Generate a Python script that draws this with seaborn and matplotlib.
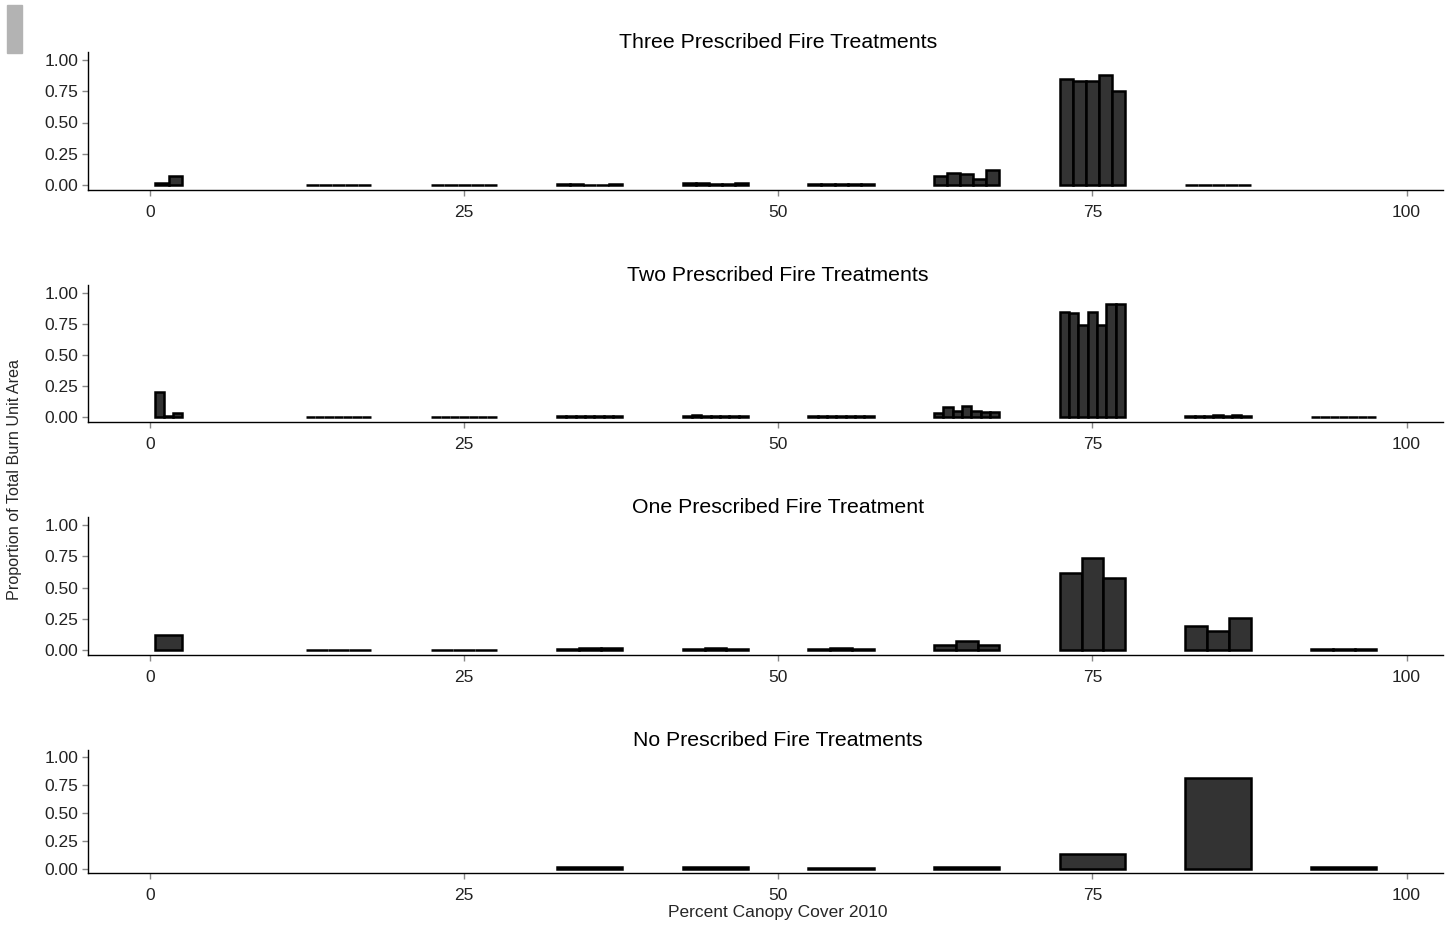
import numpy as np
import pandas as pd
import matplotlib
matplotlib.use("Agg")
import matplotlib.pyplot as plt
from matplotlib.patches import Rectangle
import seaborn as sns

# canopy cover classes (group midpoints, percent)
cover_classes = [1.5, 15, 25, 35, 45, 55, 65, 75, 85, 95]

panel_titles = [
    "Three Prescribed Fire Treatments",
    "Two Prescribed Fire Treatments",
    "One Prescribed Fire Treatment",
    "No Prescribed Fire Treatments",
]

# proportion of burn unit area, one list per cover class (one value per burn unit)
three_fires = [
    [0.02, 0.075],
    [0.003, 0.003, 0.003, 0.003, 0.003],
    [0.003, 0.003, 0.003, 0.003, 0.003],
    [0.012, 0.012, 0.004, 0.004, 0.012],
    [0.02, 0.02, 0.012, 0.012, 0.02],
    [0.005, 0.005, 0.005, 0.005, 0.012],
    [0.07, 0.095, 0.085, 0.05, 0.12],
    [0.85, 0.83, 0.83, 0.88, 0.75],
    [0.004, 0.004, 0.004, 0.004, 0.004],
    [],
]
two_fires = [
    [0.2, 0.01, 0.035],
    [0.003, 0.003, 0.003, 0.003, 0.003, 0.003, 0.003],
    [0.003, 0.003, 0.003, 0.003, 0.003, 0.003, 0.003],
    [0.01, 0.01, 0.01, 0.01, 0.01, 0.01, 0.01],
    [0.01, 0.02, 0.01, 0.01, 0.01, 0.01, 0.01],
    [0.01, 0.01, 0.01, 0.01, 0.01, 0.01, 0.01],
    [0.03, 0.08, 0.05, 0.09, 0.05, 0.04, 0.04],
    [0.85, 0.84, 0.74, 0.85, 0.74, 0.91, 0.91],
    [0.01, 0.01, 0.01, 0.02, 0.005, 0.02, 0.005],
    [0.003, 0.003, 0.003, 0.003, 0.003, 0.003, 0.003],
]
one_fire = [
    [0.12],
    [0.003, 0.003, 0.003],
    [0.003, 0.003, 0.003],
    [0.005, 0.015, 0.015],
    [0.005, 0.015, 0.005],
    [0.005, 0.015, 0.005],
    [0.04, 0.075, 0.04],
    [0.62, 0.74, 0.58],
    [0.19, 0.15, 0.26],
    [0.005, 0.005, 0.005],
]
no_fire = [
    [],
    [],
    [],
    [0.015],
    [0.015],
    [0.005],
    [0.015],
    [0.13],
    [0.81],
    [0.015],
]
panels = [three_fires, two_fires, one_fire, no_fire]

x_ticks = [0, 25, 50, 75, 100]
y_ticks = [0.0, 0.25, 0.5, 0.75, 1.0]

sns.set_style("ticks")
plt.rcParams["font.family"] = ["Liberation Sans", "DejaVu Sans"]

fig = plt.figure(figsize=(14.53, 9.26), dpi=100)

# axes boxes in pixels: (top, bottom)
boxes = [(52, 190), (285, 422), (517, 655), (750, 873)]
W, H = 1453, 926
left, right = 88, 1443
title_x = (778 - left) / (right - left)

for k, (data, title) in enumerate(zip(panels, panel_titles)):
    top, bot = boxes[k]
    ax = fig.add_axes([left / W, 1 - bot / H, (right - left) / W, (bot - top) / H])
    for j, (mid, vals) in enumerate(zip(cover_classes, data)):
        if len(vals) == 0:
            continue
        gw = 2.15 if j == 0 else 5.2
        n = len(vals)
        edges = mid - gw / 2 + np.arange(n + 1) * gw / n
        df = pd.DataFrame({"x": (edges[:-1] + edges[1:]) / 2, "w": vals})
        sns.histplot(data=df, x="x", weights="w", bins=edges.tolist(), ax=ax,
                     color="#333333", edgecolor="black", linewidth=1.8,
                     alpha=1, stat="count")
    ax.set_xlim(-4.93, 102.9)
    ax.set_ylim(-0.04, 1.064)
    ax.set_xticks(x_ticks)
    ax.set_xticklabels([str(t) for t in x_ticks])
    ax.set_yticks(y_ticks)
    ax.set_yticklabels([f"{t:.2f}" for t in y_ticks])
    ax.set_xlabel("")
    ax.set_ylabel("")
    ax.set_title(title, fontsize=15.3, pad=3, color="black", x=title_x)
    ax.tick_params(axis="both", labelsize=12.5, length=4, width=1,
                   color="#888888", labelcolor="#222222", pad=3)
    ax.tick_params(axis="x", pad=6.5)
    sns.despine(ax=ax)
    for s in ["left", "bottom"]:
        ax.spines[s].set_color("black")
        ax.spines[s].set_linewidth(1.0)

fig.text(778 / W, 1 - 912 / H, "Percent Canopy Cover 2010",
         ha="center", va="center", fontsize=12.5)
fig.text(15 / W, 1 - 480 / H, "Proportion of Total Burn Unit Area", rotation=90,
         ha="center", va="center", fontsize=11.6)

fig.patches.append(Rectangle((7 / W, 1 - 53 / H), 15 / W, 48 / H,
                             transform=fig.transFigure, color="#b3b3b3"))

fig.savefig("out.png", dpi=100)
